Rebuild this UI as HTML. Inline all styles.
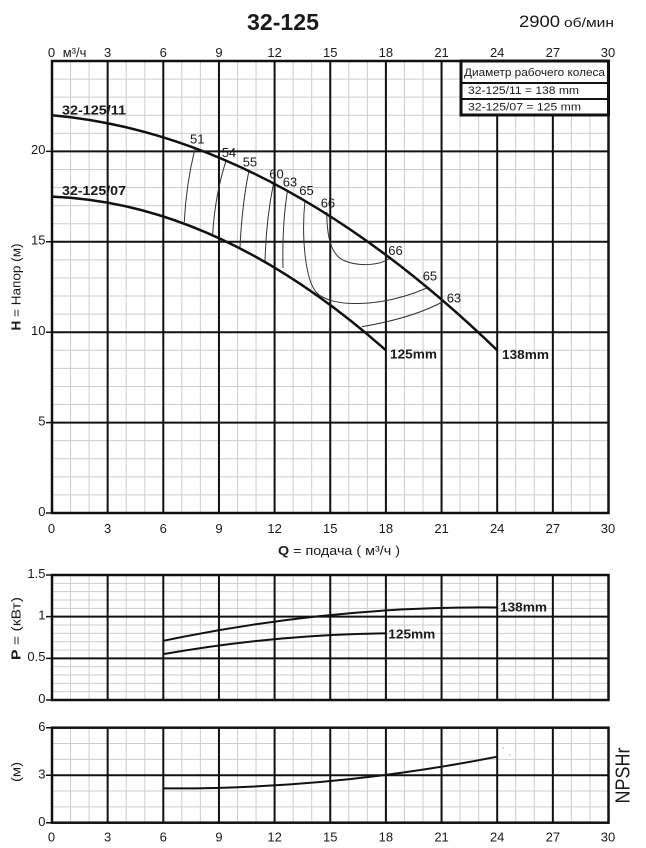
<!DOCTYPE html>
<html><head><meta charset="utf-8"><style>
html,body{margin:0;padding:0;background:#fff;}
svg{display:block;}
text{font-family:"Liberation Sans","DejaVu Sans",sans-serif;fill:#1a1a1a;}
</style></head><body>
<svg width="646" height="848" viewBox="0 0 646 848" xmlns="http://www.w3.org/2000/svg">
<rect width="646" height="848" fill="#fff"/>
<!-- minor verticals -->
<path d="M70.55 61V823M89.1 61V823M126.2 61V823M144.75 61V823M181.85 61V823M200.4 61V823M237.5 61V823M256.05 61V823M293.15 61V823M311.7 61V823M348.8 61V823M367.35 61V823M404.45 61V823M423 61V823M460.1 61V823M478.65 61V823M515.75 61V823M534.3 61V823M571.4 61V823M589.95 61V823" stroke="#cdcdcd" stroke-width="1" fill="none"/>
<!-- minor horizontals -->
<path d="M52 494.92H608.5M52 476.84H608.5M52 458.76H608.5M52 440.68H608.5M52 404.52H608.5M52 386.44H608.5M52 368.36H608.5M52 350.28H608.5M52 314.12H608.5M52 296.04H608.5M52 277.96H608.5M52 259.88H608.5M52 223.72H608.5M52 205.64H608.5M52 187.56H608.5M52 169.48H608.5M52 133.32H608.5M52 115.24H608.5M52 97.16H608.5M52 79.08H608.5
M52 691.67H608.5M52 683.33H608.5M52 675H608.5M52 666.67H608.5M52 650H608.5M52 641.67H608.5M52 633.33H608.5M52 625H608.5M52 608.33H608.5M52 600H608.5M52 591.67H608.5M52 583.33H608.5
M52 806.87H608.5M52 791.03H608.5M52 759.37H608.5M52 743.53H608.5" stroke="#cdcdcd" stroke-width="1" fill="none"/>
<!-- major verticals -->
<path d="M107.65 61V823M163.3 61V823M218.95 61V823M274.6 61V823M330.25 61V823M385.9 61V823M441.55 61V823M497.2 61V823M552.85 61V823" stroke="#111" stroke-width="2" fill="none"/>
<!-- major horizontals -->
<path d="M52 422.6H608.5M52 332.2H608.5M52 241.8H608.5M52 151.4H608.5M52 658.33H608.5M52 616.67H608.5M52 775.2H608.5" stroke="#111" stroke-width="2" fill="none"/>
<!-- whiteout gaps -->
<rect x="40" y="514" width="580" height="60" fill="#fff"/>
<rect x="40" y="701" width="580" height="26" fill="#fff"/>
<!-- frames -->
<rect x="52" y="61" width="556.5" height="452" fill="none" stroke="#111" stroke-width="2.5"/>
<rect x="52" y="575" width="556.5" height="125" fill="none" stroke="#111" stroke-width="2.5"/>
<rect x="52" y="727.7" width="556.5" height="95" fill="none" stroke="#111" stroke-width="2.5"/>
<!-- y ticks -->
<path d="M46 513H52M46 422.6H52M46 332.2H52M46 241.8H52M46 151.4H52M46 575H52M46 616.67H52M46 658.33H52M46 700H52M46 727.7H52M46 775.2H52M46 822.7H52" stroke="#111" stroke-width="1.5"/>
<!-- legend box -->
<rect x="461" y="61" width="147.5" height="54" fill="#fff" stroke="#111" stroke-width="3"/>
<path d="M461 83H608.5M461 99H608.5" stroke="#111" stroke-width="2"/>
<text x="464" y="76" font-size="11" textLength="141" lengthAdjust="spacingAndGlyphs">Диаметр рабочего колеса</text>
<text x="468" y="94" font-size="11" textLength="111" lengthAdjust="spacingAndGlyphs">32-125/11 = 138 mm</text>
<text x="468" y="110.5" font-size="11" textLength="113" lengthAdjust="spacingAndGlyphs">32-125/07 = 125 mm</text>
<!-- efficiency curves -->
<g stroke="#333" stroke-width="1" fill="none">
<path d="M195 148.5 Q186 185 184.3 222"/>
<path d="M226 160.8 Q215 195 212.7 234"/>
<path d="M248.7 172 Q242 205 240 247"/>
<path d="M273.5 183.5 Q266 220 265 262"/>
<path d="M287.5 190.5 Q282 225 283 268"/>
<path d="M305 200 C301 240 306 280 316 292 C330 308 380 308 427 288"/>
<path d="M326.7 212 C327 235 330 255 345 261 C360 267 380 265 389.5 258.5"/>
<path d="M361.7 326.7 C390 322 420 314 443.3 301.5"/>
</g>
<!-- H-Q curves -->
<path d="M52 115.24 Q274.6 135.13 497.2 350.28" stroke="#111" stroke-width="2.5" fill="none"/>
<path d="M52 196.6 Q218.95 202.9 385.9 350.28" stroke="#111" stroke-width="2.5" fill="none"/>
<!-- power curves -->
<path d="M163.3 640.83 Q330.25 605.83 497.2 607.5" stroke="#111" stroke-width="2" fill="none"/>
<path d="M163.3 654.17 Q274.6 634.58 385.9 633.33" stroke="#111" stroke-width="2" fill="none"/>
<!-- NPSH -->
<path d="M163.3 788.35 Q330.25 789.6 497.2 756.7" stroke="#111" stroke-width="2" fill="none"/>
<circle cx="503" cy="748" r="0.7" fill="#999"/>
<circle cx="510" cy="755" r="0.7" fill="#c99"/>
<!-- efficiency labels -->
<g font-size="13">
<text x="190" y="143.5">51</text>
<text x="221.7" y="157">54</text>
<text x="242.7" y="166.7">55</text>
<text x="269.3" y="178.3">60</text>
<text x="282.7" y="186.5">63</text>
<text x="299.3" y="195">65</text>
<text x="320.7" y="207.3">66</text>
<text x="388.3" y="255">66</text>
<text x="422.7" y="280.7">65</text>
<text x="446.7" y="302.3">63</text>
</g>
<!-- curve labels -->
<g font-size="13" font-weight="bold">
<text x="62" y="114.5" textLength="64" lengthAdjust="spacingAndGlyphs">32-125/11</text>
<text x="62" y="195" textLength="64" lengthAdjust="spacingAndGlyphs">32-125/07</text>
<text x="502" y="359" textLength="47" lengthAdjust="spacingAndGlyphs">138mm</text>
<text x="390" y="358.5" textLength="47" lengthAdjust="spacingAndGlyphs">125mm</text>
<text x="500" y="611.7" textLength="47" lengthAdjust="spacingAndGlyphs">138mm</text>
<text x="388.3" y="638.3" textLength="47" lengthAdjust="spacingAndGlyphs">125mm</text>
</g>
<!-- title -->
<text x="247" y="30" font-size="23" font-weight="bold" textLength="72" lengthAdjust="spacingAndGlyphs">32-125</text>
<text x="519" y="27" font-size="17" textLength="41" lengthAdjust="spacingAndGlyphs">2900</text>
<text x="564" y="27" font-size="13" textLength="50" lengthAdjust="spacingAndGlyphs">об/мин</text>
<!-- top x labels -->
<g font-size="13" text-anchor="middle">
<text x="51.5" y="57">0</text>
<text x="107.65" y="57">3</text>
<text x="163.3" y="57">6</text>
<text x="218.95" y="57">9</text>
<text x="274.6" y="57">12</text>
<text x="330.25" y="57">15</text>
<text x="385.9" y="57">18</text>
<text x="441.55" y="57">21</text>
<text x="497.2" y="57">24</text>
<text x="552.85" y="57">27</text>
<text x="608" y="57">30</text>
</g>
<text x="62.7" y="57" font-size="13">м³/ч</text>
<!-- bottom main x labels -->
<g font-size="13" text-anchor="middle">
<text x="51.5" y="533">0</text>
<text x="107.65" y="533">3</text>
<text x="163.3" y="533">6</text>
<text x="218.95" y="533">9</text>
<text x="274.6" y="533">12</text>
<text x="330.25" y="533">15</text>
<text x="385.9" y="533">18</text>
<text x="441.55" y="533">21</text>
<text x="497.2" y="533">24</text>
<text x="552.85" y="533">27</text>
<text x="608" y="533">30</text>
</g>
<text x="278" y="555" font-size="13" textLength="122" lengthAdjust="spacingAndGlyphs"><tspan font-weight="bold">Q</tspan> = подача ( м³/ч )</text>
<!-- NPSH bottom x labels -->
<g font-size="13" text-anchor="middle">
<text x="51.5" y="841.5">0</text>
<text x="107.65" y="841.5">3</text>
<text x="163.3" y="841.5">6</text>
<text x="218.95" y="841.5">9</text>
<text x="274.6" y="841.5">12</text>
<text x="330.25" y="841.5">15</text>
<text x="385.9" y="841.5">18</text>
<text x="441.55" y="841.5">21</text>
<text x="497.2" y="841.5">24</text>
<text x="552.85" y="841.5">27</text>
<text x="608" y="841.5">30</text>
</g>
<!-- y labels -->
<g font-size="13" text-anchor="end">
<text x="45.5" y="516">0</text>
<text x="45.5" y="425.5">5</text>
<text x="45.5" y="335">10</text>
<text x="45.5" y="244.5">15</text>
<text x="45.5" y="154">20</text>
<text x="45.5" y="578">1.5</text>
<text x="45.5" y="619.5">1</text>
<text x="45.5" y="661">0.5</text>
<text x="45.5" y="703">0</text>
<text x="45.5" y="731">6</text>
<text x="45.5" y="778.5">3</text>
<text x="45.5" y="826">0</text>
</g>
<!-- rotated axis labels -->
<text transform="translate(20.7 287) rotate(-90)" font-size="12.5" text-anchor="middle" textLength="87" lengthAdjust="spacingAndGlyphs"><tspan font-weight="bold">H</tspan> = Напор (м)</text>
<text transform="translate(20.5 628.5) rotate(-90)" font-size="12.5" text-anchor="middle" textLength="63" lengthAdjust="spacingAndGlyphs"><tspan font-weight="bold">P</tspan> = (кВт)</text>
<text transform="translate(20.5 772) rotate(-90)" font-size="12.5" text-anchor="middle" textLength="20" lengthAdjust="spacingAndGlyphs">(м)</text>
<text transform="translate(629.5 775.5) rotate(-90)" font-size="20" text-anchor="middle" textLength="56" lengthAdjust="spacingAndGlyphs">NPSHr</text>
</svg>
</body></html>
